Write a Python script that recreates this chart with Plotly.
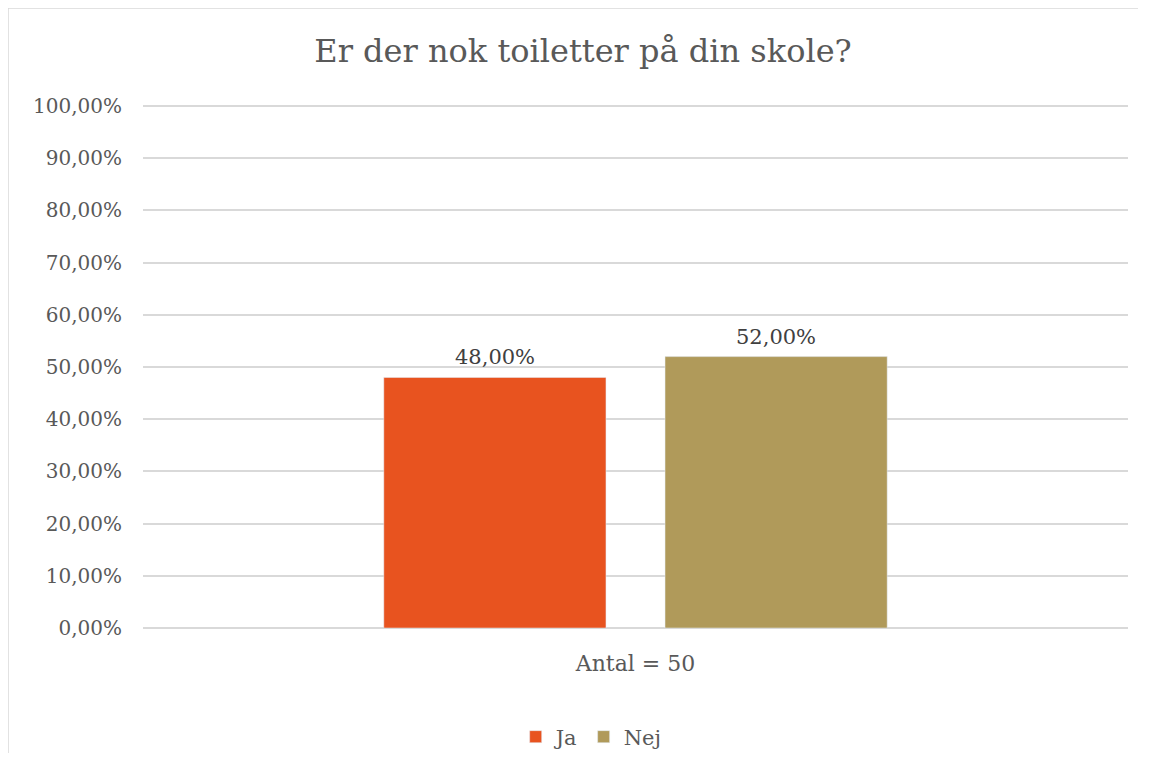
import plotly.graph_objects as go

# survey answers
category = ["Antal = 50"]
series = ["Ja", "Nej"]
values = [0.48, 0.52]
colors = ["#E8531F", "#B09A5A"]

font_name = "DejaVu Serif"
grey = "#595959"

fig = go.Figure()
for name, val, col in zip(series, values, colors):
    fig.add_trace(go.Bar(x=category, y=[val], name=name, marker_color=col))

# the page body has an 8px margin, so the figure is kept a bit smaller
# than the window and everything is placed 8px up/left
W, H = 1130, 745
ml, mr, mt, mb = 135, 10, 96, 125
pw, ph = W - ml - mr, H - mt - mb

def px_x(p):
    return (p - 8 - ml) / pw

def px_y(p):
    return (H - mb - (p - 8)) / ph

# value labels above the bars
slot = 281
for i, val in enumerate(values):
    fig.add_annotation(x=category[0], y=val, text=f"{val * 100:.2f}%".replace(".", ","),
                       showarrow=False, yanchor="bottom", yshift=6,
                       xshift=(i - 0.5) * slot,
                       font=dict(size=21, color="#404040", family=font_name))

# chart frame: only top and left edges are visible in the crop
border = dict(color="#D9D9D9", width=1.5)
fig.add_shape(type="line", xref="paper", yref="paper",
              x0=px_x(8), x1=px_x(1160), y0=px_y(8), y1=px_y(8), line=border, layer="below")
fig.add_shape(type="line", xref="paper", yref="paper",
              x0=px_x(8), x1=px_x(8), y0=px_y(8), y1=px_y(780), line=border, layer="below")

fig.update_layout(
    width=W, height=H,
    margin=dict(l=ml, r=mr, t=mt, b=mb),
    paper_bgcolor="white", plot_bgcolor="white",
    separators=",.",
    font=dict(family=font_name, color=grey, size=20),
    title=dict(text="Er der nok toiletter på din skole?", x=px_x(583), xanchor="center",
               xref="paper", y=1 - 43 / H, yanchor="middle", font=dict(size=32, color=grey)),
    barmode="group", bargap=0.429, bargroupgap=0.21,
    yaxis=dict(range=[0, 1.004], dtick=0.1, tickformat=".2%", showgrid=True,
               gridcolor="#D9D9D9", gridwidth=1.5, zeroline=True,
               zerolinecolor="#D9D9D9", zerolinewidth=1.5, ticks="",
               ticklabelstandoff=20, tickfont=dict(size=20, color=grey)),
    xaxis=dict(showline=False, ticks="", tickfont=dict(size=22, color=grey),
               ticklabelstandoff=20),
    legend=dict(orientation="h", x=0.455, xanchor="center",
                yref="container", y=1 - 729 / H, yanchor="middle",
                font=dict(size=21, color=grey), itemwidth=30, traceorder="normal"),
)

fig.write_html("out.html")
